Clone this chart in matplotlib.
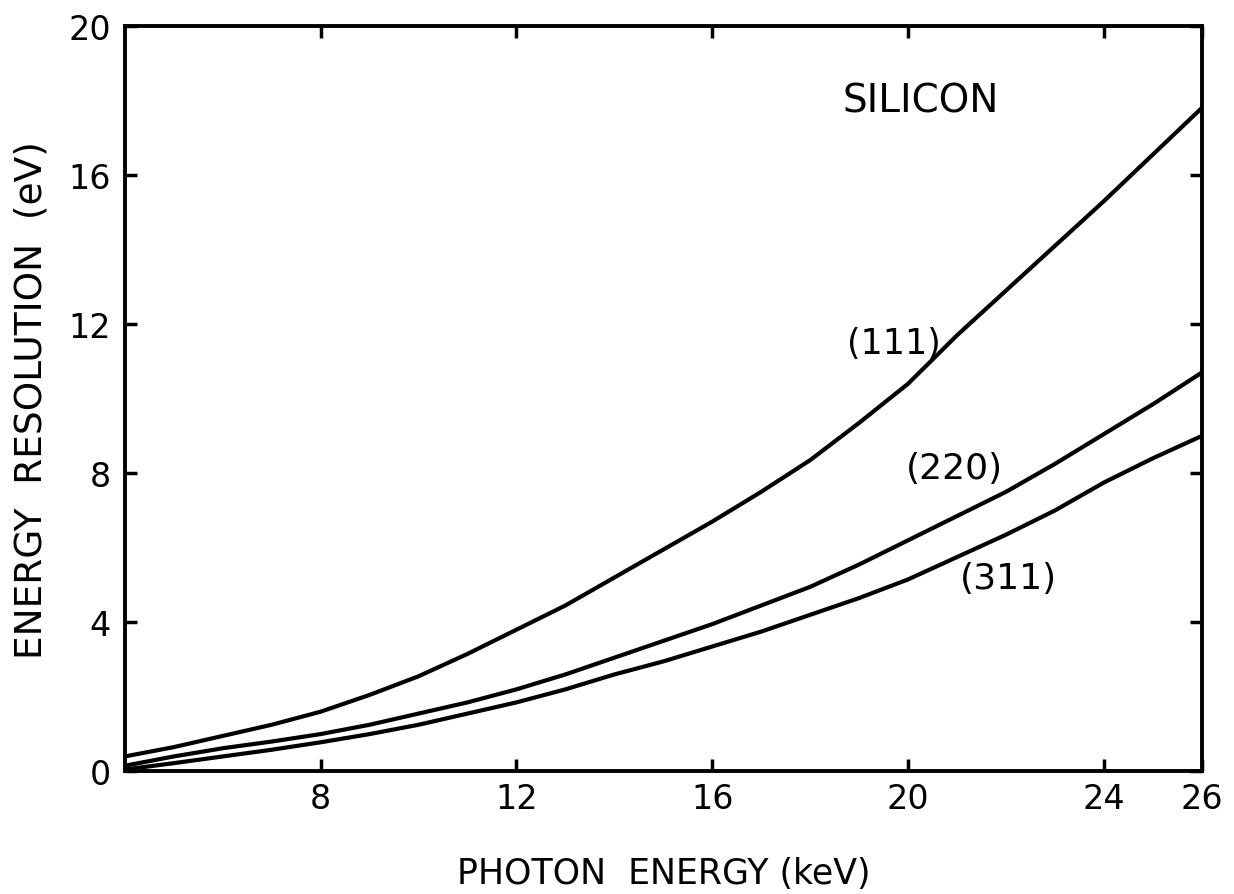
import matplotlib
matplotlib.use("Agg")
import matplotlib.pyplot as plt

# photon energy (keV) and energy resolution (eV)
energy = [4, 5, 6, 7, 8, 9, 10, 11, 12, 13, 14, 15,
          16, 17, 18, 19, 20, 21, 22, 23, 24, 25, 26]
res_111 = [0.4, 0.65, 0.95, 1.25, 1.6, 2.05, 2.55, 3.15, 3.8, 4.45, 5.2, 5.95,
           6.7, 7.5, 8.35, 9.35, 10.4, 11.7, 12.9, 14.1, 15.3, 16.55, 17.8]
res_220 = [0.15, 0.4, 0.62, 0.8, 1.0, 1.25, 1.55, 1.85, 2.2, 2.6, 3.05, 3.5,
           3.95, 4.45, 4.95, 5.55, 6.2, 6.85, 7.5, 8.25, 9.05, 9.85, 10.7]
res_311 = [0.05, 0.22, 0.4, 0.58, 0.78, 1.0, 1.25, 1.55, 1.85, 2.2, 2.6, 2.95,
           3.35, 3.75, 4.2, 4.65, 5.15, 5.75, 6.35, 7.0, 7.75, 8.4, 9.0]

x_ticks = [8, 12, 16, 20, 24, 26]
y_ticks = [0, 4, 8, 12, 16, 20]

plt.rcParams['font.family'] = ['DejaVu Sans']

fig = plt.figure(figsize=(12.34, 8.95), dpi=100)
ax = fig.add_axes([0.101, 0.137, 0.873, 0.833])

for vals in (res_111, res_220, res_311):
    ax.plot(energy, vals, color='black', lw=3.0, solid_capstyle='round',
            solid_joinstyle='round')

ax.set_xlim(4, 26)
ax.set_ylim(0, 20)
ax.set_xticks(x_ticks)
ax.set_yticks(y_ticks)
ax.tick_params(direction='in', length=8.5, width=2.5, labelsize=24,
               top=True, right=True)
ax.tick_params(axis='x', pad=8)
ax.tick_params(axis='y', pad=10)
for s in ax.spines.values():
    s.set_linewidth(2.8)

ax.set_xlabel('PHOTON  ENERGY (keV)', fontsize=25)
ax.xaxis.set_label_coords(0.5, -0.113)
ax.set_ylabel('ENERGY  RESOLUTION  (eV)', fontsize=27)
ax.yaxis.set_label_coords(-0.070, 0.5)

ax.text(20.25, 18.0, 'SILICON', fontsize=28, ha='center', va='center')
ax.text(19.7, 11.5, '(111)', fontsize=25, ha='center', va='center')
ax.text(20.95, 8.15, '(220)', fontsize=26, ha='center', va='center')
ax.text(22.05, 5.2, '(311)', fontsize=26, ha='center', va='center')

fig.savefig('out.png', dpi=100)
